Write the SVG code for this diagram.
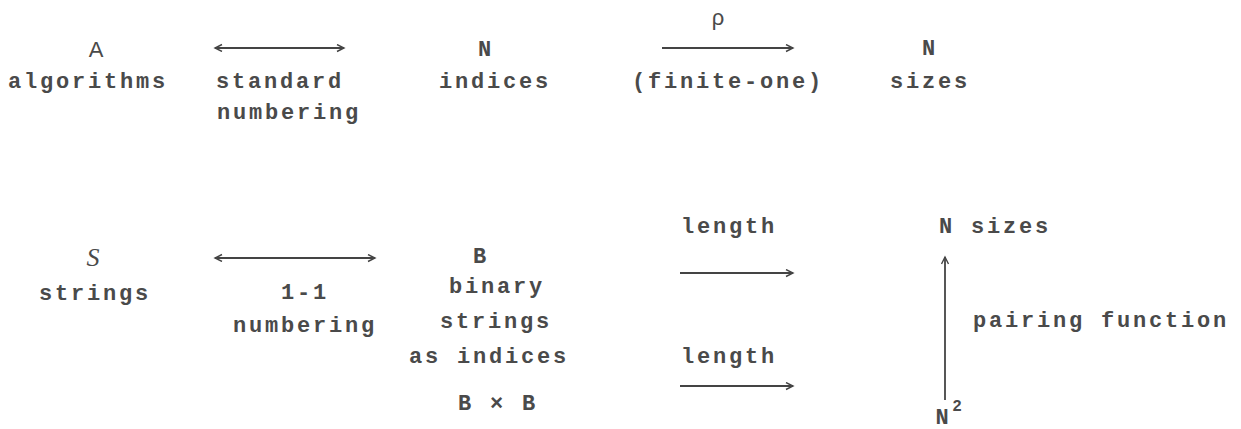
<svg xmlns="http://www.w3.org/2000/svg" width="1241" height="429" viewBox="0 0 1241 429">
<style>
text{font-family:"Liberation Mono","Courier New",monospace;font-size:22px;font-weight:bold;letter-spacing:2.8px;fill:#4a4a4a;text-anchor:middle}
.it{font-style:italic;font-weight:normal;font-family:"Liberation Serif",serif;font-size:26px}
.line{stroke:#444;stroke-width:1.8;fill:none}
.sup{font-size:16px;letter-spacing:0}
</style>
<defs>
<marker id="ah" markerWidth="10" markerHeight="10" refX="8" refY="4" orient="auto-start-reverse" markerUnits="userSpaceOnUse">
<path d="M1,0.5 L8,4 L1,7.5" fill="none" stroke="#444" stroke-width="1.4"/>
</marker>
</defs>
<rect width="1241" height="429" fill="#fff"/>
<g id="connectors">
<line class="line" x1="215" y1="48" x2="344" y2="48" marker-start="url(#ah)" marker-end="url(#ah)"/>
<line class="line" x1="662" y1="48" x2="793" y2="48" marker-end="url(#ah)"/>
<line class="line" x1="215" y1="258" x2="375" y2="258" marker-start="url(#ah)" marker-end="url(#ah)"/>
<line class="line" x1="680" y1="273" x2="793" y2="273" marker-end="url(#ah)"/>
<line class="line" x1="680" y1="386" x2="793" y2="386" marker-end="url(#ah)"/>
<line class="line" x1="945" y1="400" x2="945" y2="257" marker-end="url(#ah)"/>
</g>
<g id="algorithms">
<text x="96" y="57" style="font-family:'Liberation Sans',sans-serif;font-weight:normal;letter-spacing:0">A</text>
<text x="88" y="88">algorithms</text>
</g>
<g id="standard-numbering">
<text x="280" y="88">standard</text>
<text x="289" y="119">numbering</text>
</g>
<g id="indices">
<text x="486" y="56">N</text>
<text x="495" y="88">indices</text>
</g>
<g id="rho">
<text x="718" y="25" style="font-family:'Liberation Sans',sans-serif;font-weight:normal;letter-spacing:0">ρ</text>
<text x="728" y="88">(finite-one)</text>
</g>
<g id="sizes-top">
<text x="930" y="55">N</text>
<text x="930" y="88">sizes</text>
</g>
<g id="strings">
<text class="it" x="93" y="266" style="letter-spacing:0">S</text>
<text x="95" y="300">strings</text>
</g>
<g id="one-one-numbering">
<text x="305" y="299">1-1</text>
<text x="305" y="332">numbering</text>
</g>
<g id="binary">
<text x="481" y="263">B</text>
<text x="497" y="293">binary</text>
<text x="496" y="328">strings</text>
<text x="489" y="363">as indices</text>
<text x="498" y="410">B × B</text>
</g>
<g id="length-labels">
<text x="729" y="233">length</text>
<text x="729" y="363">length</text>
</g>
<g id="sizes-bottom">
<text x="995" y="233">N sizes</text>
</g>
<g id="pairing">
<text x="1101" y="327">pairing function</text>
</g>
<g id="n-squared">
<text x="942" y="424" style="letter-spacing:0">N</text>
<text class="sup" x="957" y="411">2</text>
</g>
</svg>
